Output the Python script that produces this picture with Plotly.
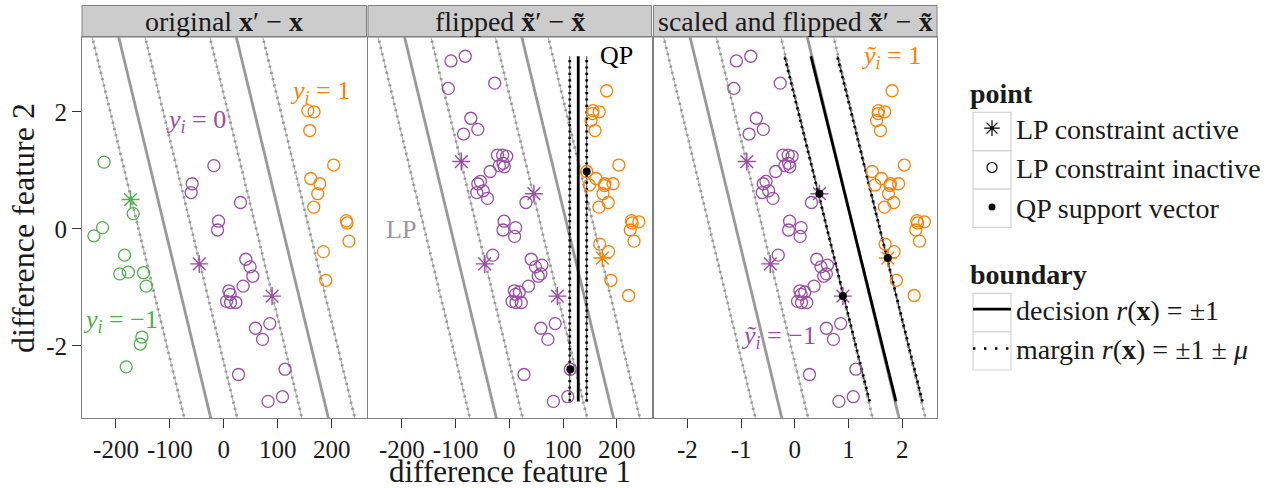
import plotly.graph_objects as go

FONT = "Liberation Serif"
GREEN, PURPLE, ORANGE = "#4daf4a", "#984ea3", "#ff7f00"
GRAY, BLACK = "#999999", "#000000"

# ---------------- data: original pairs x' - x (panel 1) ----------------
green_x = [-222, -173, -168, -225, -241, -184, -193, -177, -149, -144, -152, -155, -181]
green_y = [1.14, 0.50, 0.26, 0.02, -0.12, -0.45, -0.77, -0.74, -0.75, -0.98, -1.85, -1.97, -2.36]
green_active = [0, 1, 0, 0, 0, 0, 0, 0, 0, 0, 0, 0, 0]

purple_x = [-18.5, -58.7, -60.6, 30.9, -9.8, -11.7, 40.7, 48.7, 53.7, 35.7, 9.3, 11.7, 5.0,
            12.4, 22.2, 58.7, 85.2, 71.7, 27.2, 113.5, 108.7, 82.0, -45.7, 89.4]
purple_y = [1.08, 0.77, 0.62, 0.45, 0.13, -0.02, -0.52, -0.65, -0.81, -0.98, -1.06, -1.12, -1.24,
            -1.26, -1.26, -1.70, -1.62, -1.89, -2.49, -2.40, -2.87, -2.95, -0.60, -1.15]
purple_active = [0] * 22 + [1, 1]

orange_x = [155.6, 167.2, 159.3, 203.7, 161.1, 177.8, 174.1, 166.7, 227.2, 228.4, 232.0, 184.6, 188.9]
orange_y = [2.02, 2.00, 1.68, 1.09, 0.86, 0.77, 0.60, 0.37, 0.14, 0.10, -0.21, -0.39, -0.88]
orange_active = [0] * 13

# QP support vectors (indices): flipped panel / scaled-and-flipped panel
sv_flipped = {"purple": [19], "purple_neg": [], "orange": [], "green_neg": [9]}
sv_scaled = {"purple": [23], "purple_neg": [22], "orange": [], "green_neg": [1]}

# scaling of feature 1 in the third panel
feature1_scale = 0.01

# boundaries r(x) = w1*x1 + w2*x2
w_lp = [0.00917, 0.2404]
mu_lp = 0.45
w_qp_flipped = [0.0078, 0.0]
mu_qp_flipped = 0.123
w_qp_scaled = [0.917, 0.246]
mu_qp_scaled = 0.45

x_ticks = [-200, -100, 0, 100, 200]
x_ticktext = ["-200", "-100", "0", "100", "200"]
x3_ticks = [-2, -1, 0, 1, 2]
x3_ticktext = ["-2", "-1", "0", "1", "2"]
y_ticks = [-2, 0, 2]
y_ticktext = ["-2", "0", "2"]

panel_titles = ["original <b>x</b>′ − <b>x</b>",
                "flipped <b>x̃</b>′ − <b>x̃</b>",
                "scaled and flipped <b>x̃</b>′ − <b>x̃</b>"]

point_legend = ["LP constraint active", "LP constraint inactive", "QP support vector"]
boundary_legend = ["decision <i>r</i>(<b>x</b>) = ±1", "margin <i>r</i>(<b>x</b>) = ±1 ± <i>μ</i>"]

X_RANGE = [-263, 264.5]
Y_RANGE = [-3.234, 3.279]

fig = go.Figure()

# ---------------- helpers ----------------
def add_line(xs, ys, color, style, xa, ya):
    if style == "solid":
        fig.add_trace(go.Scatter(x=xs, y=ys, mode="lines", xaxis=xa, yaxis=ya,
                                 line=dict(color=color, width=2.8), showlegend=False,
                                 hoverinfo="skip"))
    else:
        fig.add_trace(go.Scatter(x=xs, y=ys, mode="lines", xaxis=xa, yaxis=ya,
                                 line=dict(color=color, width=0.8), showlegend=False,
                                 hoverinfo="skip"))
        fig.add_trace(go.Scatter(x=xs, y=ys, mode="lines", xaxis=xa, yaxis=ya,
                                 line=dict(color=color, width=2.8, dash="2.2px,4.2px"),
                                 showlegend=False, hoverinfo="skip"))


def boundary(w, r, ys):
    return [(r - w[1] * y) / w[0] for y in ys]


def add_lp(w, mu, xa, ya):
    ys = [Y_RANGE[0] - 0.5, Y_RANGE[1] + 0.5]
    for r, st in [(-1 - mu, "dot"), (-1, "solid"), (-1 + mu, "dot"),
                  (1 - mu, "dot"), (1, "solid"), (1 + mu, "dot")]:
        add_line(boundary(w, r, ys), ys, GRAY, st, xa, ya)


def add_qp(w, mu, ys, xa, ya):
    for r, st in [(1 - mu, "dot"), (1 + mu, "dot"), (1, "solid")]:
        add_line(boundary(w, r, ys), ys, BLACK, st, xa, ya)


def add_points(xs, ys, active, color, xa, ya):
    inx = [x for x, a in zip(xs, active) if not a]
    iny = [y for y, a in zip(ys, active) if not a]
    acx = [x for x, a in zip(xs, active) if a]
    acy = [y for y, a in zip(ys, active) if a]
    fig.add_trace(go.Scatter(x=inx, y=iny, mode="markers", xaxis=xa, yaxis=ya, showlegend=False,
                             marker=dict(symbol="circle-open", size=12, color=color,
                                         line=dict(width=1.3, color=color))))
    if acx:
        fig.add_trace(go.Scatter(x=acx, y=acy, mode="markers", xaxis=xa, yaxis=ya, showlegend=False,
                                 marker=dict(symbol="asterisk-open", size=15, color=color,
                                             line=dict(width=1.4, color=color))))


def add_sv(xs, ys, xa, ya):
    fig.add_trace(go.Scatter(x=xs, y=ys, mode="markers", xaxis=xa, yaxis=ya, showlegend=False,
                             marker=dict(symbol="circle", size=8, color=BLACK)))


# ---------------- panel 1: original ----------------
add_lp(w_lp, mu_lp, "x", "y")
add_points(green_x, green_y, green_active, GREEN, "x", "y")
add_points(purple_x, purple_y, purple_active, PURPLE, "x", "y")
add_points(orange_x, orange_y, orange_active, ORANGE, "x", "y")

# ---------------- flipped pairs ----------------
groups = {
    "purple": (purple_x, purple_y, purple_active, 1, PURPLE),
    "purple_neg": (purple_x, purple_y, purple_active, -1, PURPLE),
    "orange": (orange_x, orange_y, orange_active, 1, ORANGE),
    "green_neg": (green_x, green_y, green_active, -1, ORANGE),
}
all_y = [s * y for (xs, ys, a, s, c) in groups.values() for y in ys]
qp_ys = [min(all_y), max(all_y)]

for xa, ya, scale, w_qp, mu_qp, sv in [
        ("x2", "y2", 1.0, w_qp_flipped, mu_qp_flipped, sv_flipped),
        ("x3", "y3", feature1_scale, w_qp_scaled, mu_qp_scaled, sv_scaled)]:
    add_lp([w_lp[0] / scale, w_lp[1]], mu_lp, xa, ya)
    add_qp(w_qp, mu_qp, qp_ys, xa, ya)
    for name in ["purple", "purple_neg", "orange", "green_neg"]:
        xs, ys, act, s, col = groups[name]
        add_points([s * x * scale for x in xs], [s * y for y in ys], act, col, xa, ya)
    svx, svy = [], []
    for name, idx in sv.items():
        xs, ys, act, s, col = groups[name]
        for i in idx:
            svx.append(s * xs[i] * scale)
            svy.append(s * ys[i])
    add_sv(svx, svy, xa, ya)

# ---------------- legend entries ----------------
fig.add_trace(go.Scatter(x=[None], y=[None], mode="markers", name=point_legend[0],
                         legend="legend", marker=dict(symbol="asterisk-open", size=13, color=BLACK,
                                                      line=dict(width=1.2, color=BLACK))))
fig.add_trace(go.Scatter(x=[None], y=[None], mode="markers", name=point_legend[1],
                         legend="legend", marker=dict(symbol="circle-open", size=10, color=BLACK,
                                                      line=dict(width=1.2, color=BLACK))))
fig.add_trace(go.Scatter(x=[None], y=[None], mode="markers", name=point_legend[2],
                         legend="legend", marker=dict(symbol="circle", size=7, color=BLACK)))
fig.add_trace(go.Scatter(x=[None], y=[None], mode="lines", name=boundary_legend[0],
                         legend="legend2", line=dict(color=BLACK, width=2.8)))
fig.add_trace(go.Scatter(x=[None], y=[None], mode="lines", name=boundary_legend[1],
                         legend="legend2", line=dict(color=BLACK, width=2.4, dash="2.4px,8.6px")))

# ---------------- layout ----------------
W, H = 1284, 488
L, R, T, B = 82, 347, 37, 70
pw = W - L - R
ph = H - T - B
doms = [[0, 284.5 / pw], [286 / pw, 569.5 / pw], [571.5 / pw, 1]]


def px_x(px):  # screen px -> paper x
    return (px - L) / pw


def px_y(py):  # screen px -> paper y
    return (H - B - py) / ph


axis_common = dict(showline=True, mirror=True, linecolor="#808080", linewidth=1,
                   showgrid=False, zeroline=False, ticks="outside", ticklen=9,
                   tickcolor="#333333", tickwidth=1,
                   tickfont=dict(family=FONT, size=25, color="#1a1a1a"))

layout = dict(width=W, height=H, margin=dict(l=L, r=R, t=T, b=B),
              paper_bgcolor="white", plot_bgcolor="white",
              font=dict(family=FONT, size=26, color="#1a1a1a"))

for i, dom in enumerate(doms):
    sfx = "" if i == 0 else str(i + 1)
    xr = X_RANGE if i < 2 else [v * feature1_scale for v in X_RANGE]
    tv = x_ticks if i < 2 else x3_ticks
    tt = x_ticktext if i < 2 else x3_ticktext
    layout["xaxis" + sfx] = dict(axis_common, domain=dom, range=xr, anchor="y" + sfx,
                                 tickvals=tv, ticktext=tt)
    ya = dict(axis_common, domain=[0, 1], range=Y_RANGE, anchor="x" + sfx,
              tickvals=y_ticks, ticktext=y_ticktext)
    if i > 0:
        ya.update(showticklabels=False, ticks="")
    layout["yaxis" + sfx] = ya

fig.update_layout(**layout)

# strips
for i, title in enumerate(panel_titles):
    sfx = "" if i == 0 else str(i + 1)
    fig.add_shape(type="rect", xref="x" + sfx + " domain", yref="y" + sfx + " domain",
                  x0=0, x1=1, y0=1, y1=1 + 31.5 / ph, fillcolor="#cccccc",
                  line=dict(color="#808080", width=1), layer="below")
    fig.add_annotation(text=title, xref="x" + sfx + " domain", yref="y" + sfx + " domain",
                       x=0.5, y=1 + 15.5 / ph, showarrow=False, yanchor="middle",
                       font=dict(family=FONT, size=28, color="#1a1a1a"))

# in-panel labels
labels = [
    ("x", "y", 178, 2.34, "<i>y</i><sub><i>i</i></sub> = 1", ORANGE),
    ("x", "y", -51, 1.85, "<i>y</i><sub><i>i</i></sub> = 0", PURPLE),
    ("x", "y", -191, -1.57, "<i>y</i><sub><i>i</i></sub> = −1", GREEN),
    ("x2", "y2", 199, 2.97, "QP", BLACK),
    ("x2", "y2", -201, -0.02, "LP", GRAY),
    ("x3", "y3", 1.78, 2.94, "<i>ỹ</i><sub><i>i</i></sub> = 1", ORANGE),
    ("x3", "y3", -0.31, -1.85, "<i>ỹ</i><sub><i>i</i></sub> = −1", PURPLE),
]
for xa, ya, x, y, txt, col in labels:
    fig.add_annotation(text=txt, xref=xa, yref=ya, x=x, y=y, showarrow=False,
                       font=dict(family=FONT, size=26, color=col))

# axis titles
fig.add_annotation(text="difference feature 1", xref="paper", yref="paper", x=0.5,
                   y=px_y(471.5), showarrow=False, yanchor="middle",
                   font=dict(family=FONT, size=31, color="#1a1a1a"))
fig.add_annotation(text="difference feature 2", xref="paper", yref="paper",
                   x=px_x(23), y=px_y(228), textangle=-90,
                   showarrow=False, xanchor="center", yanchor="middle",
                   font=dict(family=FONT, size=32, color="#1a1a1a"))

LEG_FONT = dict(family=FONT, size=28, color="#1a1a1a")
fig.update_layout(
    legend=dict(x=px_x(968), y=px_y(67), xanchor="left", yanchor="top", itemwidth=38,
                title=dict(text="<b>point</b>", font=LEG_FONT),
                font=LEG_FONT, bgcolor="rgba(0,0,0,0)", tracegroupgap=0),
    legend2=dict(x=px_x(968), y=px_y(248), xanchor="left", yanchor="top", itemwidth=38,
                 title=dict(text="<b>boundary</b>", font=LEG_FONT),
                 font=LEG_FONT, bgcolor="rgba(0,0,0,0)", tracegroupgap=0),
)

# legend key boxes
for top in [112.3, 150.7, 189.0, 293.3, 331.7]:
    fig.add_shape(type="rect", xref="paper", yref="paper",
                  x0=px_x(973), x1=px_x(1011), y0=px_y(top + 38.3), y1=px_y(top),
                  line=dict(color="#d4d4d4", width=1.2), fillcolor="rgba(0,0,0,0)", layer="below")

# the page body's default 8px margin would shift the figure; remove it
fig.write_html("out.html", config={"displayModeBar": False},
               post_script="document.body.style.margin='0';")
